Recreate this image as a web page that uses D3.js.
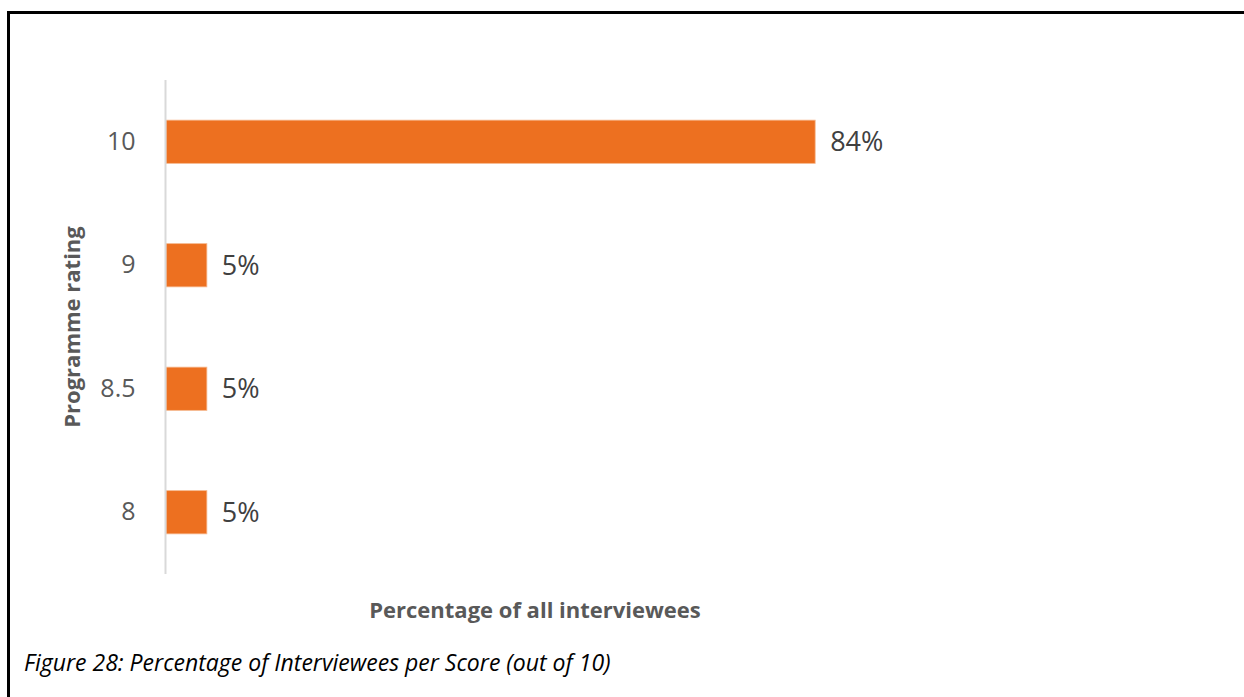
<!DOCTYPE html>
<html>
<head>
<meta charset="utf-8">
<script src="https://cdn.jsdelivr.net/npm/d3@7"></script>
<style>
  html, body { margin: 0; padding: 0; background: #fff; }
  svg { display: block; }
</style>
</head>
<body>
<svg id="chart" width="1244" height="697"></svg>
<script>
const categories = ["10", "9", "8.5", "8"];
const values = [84.2, 5.3, 5.3, 5.3];
const valueLabels = ["84%", "5%", "5%", "5%"];
const xTitle = "Percentage of all interviewees";
const yTitle = "Programme rating";
const caption = "Figure 28: Percentage of Interviewees per Score (out of 10)";

const svg = d3.select("#chart");

// frame (top and left border)
svg.append("line").attr("x1", 8).attr("x2", 1244).attr("y1", 12.5).attr("y2", 12.5)
  .attr("stroke", "#000").attr("stroke-width", 3);
svg.append("line").attr("x1", 8.5).attr("x2", 8.5).attr("y1", 11).attr("y2", 697)
  .attr("stroke", "#000").attr("stroke-width", 3);

const x0 = 166, y0 = 80, y1 = 574;
const x = d3.scaleLinear().domain([0, 100]).range([x0, x0 + 771]);
const y = d3.scaleBand().domain(categories).range([y0, y1]).paddingInner(0.65).paddingOuter(0.325);

// bars
svg.append("g").selectAll("rect").data(values).join("rect")
  .attr("x", x(0))
  .attr("y", (d, i) => y(categories[i]))
  .attr("width", d => x(d) - x(0))
  .attr("height", y.bandwidth())
  .attr("fill", "#ED7020")
  .attr("stroke", "#F5B88E")
  .attr("stroke-width", 0.8);

// y axis
const yAxis = d3.axisLeft(y).tickSize(0).tickPadding(30);
const gy = svg.append("g").attr("transform", `translate(${x0 - 0.5},0)`).call(yAxis);
gy.select(".domain").attr("stroke", "#d9d9d9").attr("stroke-width", 2)
  .attr("d", `M0,${y0}V${y1}`);
gy.selectAll(".tick text")
  .attr("font-family", "'Open Sans', 'Noto Sans', sans-serif")
  .attr("font-size", 25)
  .attr("fill", "#595959");

// value labels
svg.append("g").selectAll("text").data(values).join("text")
  .attr("x", d => x(d) + 15)
  .attr("y", (d, i) => y(categories[i]) + y.bandwidth() / 2)
  .attr("dy", "0.35em")
  .attr("font-family", "'Open Sans', 'Noto Sans', sans-serif")
  .attr("font-size", 27)
  .attr("fill", "#404040")
  .text((d, i) => valueLabels[i]);

// axis titles
svg.append("text")
  .attr("x", 535).attr("y", 618)
  .attr("text-anchor", "middle")
  .attr("font-family", "'Open Sans', 'Noto Sans', sans-serif")
  .attr("font-size", 22).attr("font-weight", "bold")
  .attr("fill", "#595959")
  .text(xTitle);

svg.append("text")
  .attr("transform", "translate(80,327) rotate(-90)")
  .attr("text-anchor", "middle")
  .attr("font-family", "'Open Sans', 'Noto Sans', sans-serif")
  .attr("font-size", 22).attr("font-weight", "bold")
  .attr("fill", "#595959")
  .text(yTitle);

// caption
svg.append("text")
  .attr("x", 24).attr("y", 671)
  .attr("font-family", "'Open Sans', 'Noto Sans', sans-serif")
  .attr("font-size", 23).attr("font-style", "italic")
  .attr("fill", "#000")
  .text(caption);
</script>
</body>
</html>
